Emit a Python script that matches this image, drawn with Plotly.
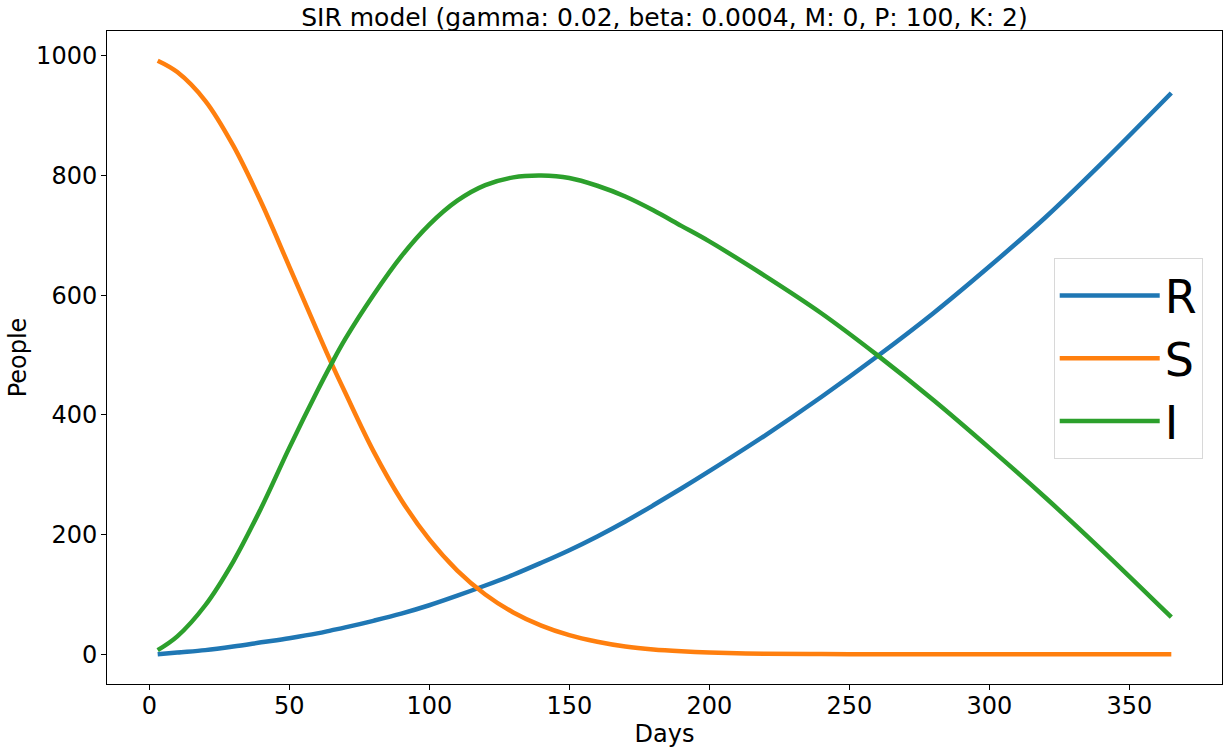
import plotly.graph_objects as go

# values
days = [3, 10, 20, 30, 40, 50, 60, 65, 70, 80, 90, 100, 110, 120, 130, 140, 150,
        160, 170, 180, 190, 200, 220, 240, 260, 280, 300, 320, 340, 365]
recovered = [0, 3, 7, 13, 20, 27, 35, 40, 45, 56, 68, 82, 98, 115, 133, 153, 174,
             197, 222, 249, 277, 306, 366, 430, 498, 570, 648, 730, 820, 938]
susceptible = [992, 973, 925, 850, 755, 648, 540, 487, 437, 340, 258, 192, 140, 100, 70, 48, 32,
               21, 13, 8, 5, 3, 1, 0.4, 0.1, 0, 0, 0, 0, 0]
infected = [7, 30, 82, 155, 245, 345, 440, 485, 527, 600, 665, 718, 758, 784, 797, 800, 796,
            783, 765, 742, 716, 690, 632, 570, 500, 425, 345, 262, 175, 62]

names = ['R', 'S', 'I']
colors = ['#1f77b4', '#ff7f0e', '#2ca02c']
series = [recovered, susceptible, infected]

title = 'SIR model (gamma: 0.02, beta: 0.0004, M: 0, P: 100, K: 2)'

fig = go.Figure()
for name, color, values in zip(names, colors, series):
    fig.add_trace(go.Scatter(x=days, y=values, name=name, mode='lines',
                             line=dict(color=color, width=4.5, shape='spline', smoothing=1)))

axis_style = dict(showline=True, linecolor='black', linewidth=1, mirror=True,
                  ticks='outside', ticklen=5, tickcolor='black', showgrid=False,
                  zeroline=False, automargin=False, tickfont=dict(size=24, color='black'))

fig.update_layout(
    width=1228, height=750,
    paper_bgcolor='white', plot_bgcolor='white',
    font=dict(family='DejaVu Sans', color='black'),
    margin=dict(l=107, r=6, t=31, b=66),
    title=dict(text=title, xref='paper', x=0.5, xanchor='center', y=0.977, yanchor='middle',
               font=dict(size=25)),
    legend=dict(x=0.9827, y=0.4985, xanchor='right', yanchor='middle',
                font=dict(size=46), bordercolor='#d8d8d8', borderwidth=1,
                bgcolor='rgba(255,255,255,0.8)', itemwidth=100),
    xaxis=dict(range=[-15.1, 383.1], tickvals=[0, 50, 100, 150, 200, 250, 300, 350],
               ticklabelstandoff=-5,
               title=dict(text='Days', font=dict(size=24), standoff=0), **axis_style),
    yaxis=dict(range=[-49.6, 1041.6], tickvals=[0, 200, 400, 600, 800, 1000],
               ticklabelstandoff=-1,
               title=dict(text='People', font=dict(size=24), standoff=2), **axis_style),
)

# the page body has a default 8px margin; drop it so the figure fills the window
fig.write_html("out.html", config={'displayModeBar': False},
               post_script="document.body.style.margin='0px';")
